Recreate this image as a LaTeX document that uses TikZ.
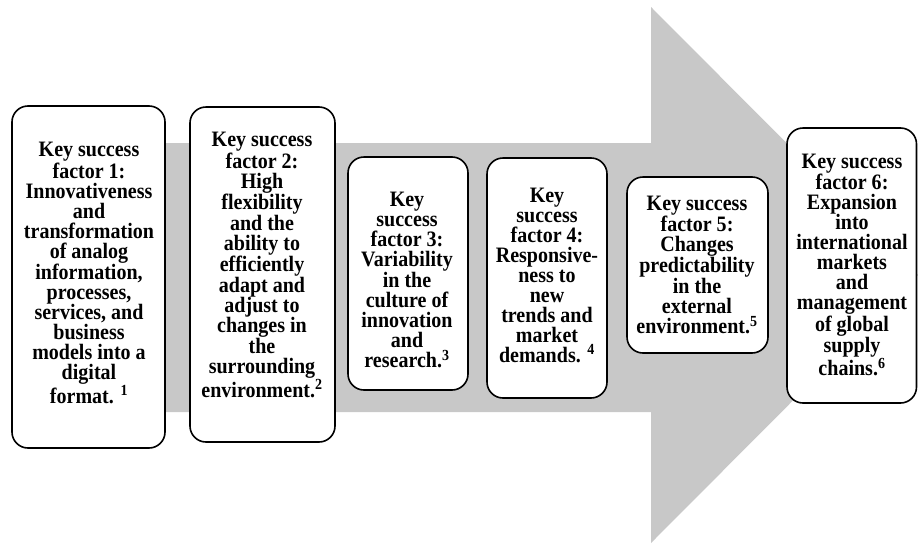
\documentclass[tikz,border=0pt]{standalone}
\usepackage{fontspec}
\setmainfont{Liberation Serif}[FakeStretch=0.91]
\definecolor{arrowgray}{RGB}{200,200,200}
\tikzset{
  ksfbox/.style={draw=black, line width=1.6pt, fill=white, rounded corners=16pt},
  ksftext/.style={align=center, inner sep=0pt, font=\fontsize{22}{20}\selectfont\bfseries},
}
\begin{document}
\begin{tikzpicture}[x=1pt, y=-1pt]
\useasboundingbox (0,0) rectangle (918,544);
% big arrow
\fill[arrowgray] (40,143) -- (651,143) -- (651,7) -- (918,275) -- (651,543) -- (651,412) -- (40,412) -- cycle;
% boxes
\draw[ksfbox] (12,106) rectangle (165,448);
\node[ksftext] (t1) at (89,273) {Key success\\factor 1:\\Innovativeness\\and\\transformation\\of analog\\information,\\processes,\\services, and\\business\\models into a\\digital\\format. \textsuperscript{1}};
\draw[ksfbox] (190,107) rectangle (335,442);
\node[ksftext] (t2) at (262,265) {Key success\\factor 2:\\High\\flexibility\\and the\\ability to\\efficiently\\adapt and\\adjust to\\changes in\\the\\surrounding\\environment.\textsuperscript{2}};
\draw[ksfbox] (348,157) rectangle (468,390);
\node[ksftext] (t3) at (407,280) {Key\\success\\factor 3:\\Variability\\in the\\culture of\\innovation\\and\\research.\textsuperscript{3}};
\draw[ksfbox] (487,158) rectangle (607,398);
\node[ksftext] (t4) at (547,275) {Key\\success\\factor 4:\\Responsive-\\ness to\\new\\trends and\\market\\demands. \textsuperscript{4}};
\draw[ksfbox] (627,177) rectangle (768,353);
\node[ksftext] (t5) at (697,265) {Key success\\factor 5:\\Changes\\predictability\\in the\\external\\environment.\textsuperscript{5}};
\draw[ksfbox] (787,128) rectangle (916.5,403);
\node[ksftext] (t6) at (852,265) {Key success\\factor 6:\\Expansion\\into\\international\\markets\\and\\management\\of global\\supply\\chains.\textsuperscript{6}};
\end{tikzpicture}
\end{document}
